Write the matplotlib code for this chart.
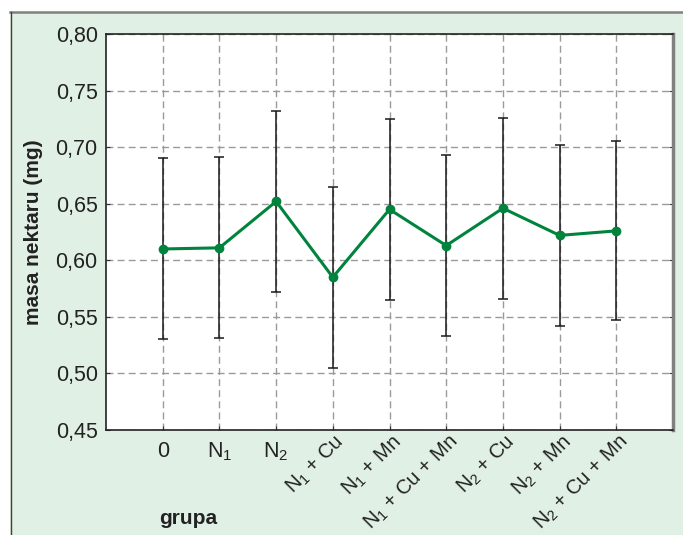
import matplotlib
matplotlib.use("Agg")
import matplotlib.pyplot as plt
from matplotlib.patches import Rectangle
from matplotlib.lines import Line2D

# dane
grupy = ["0", "N$_1$", "N$_2$", "N$_1$ + Cu", "N$_1$ + Mn", "N$_1$ + Cu + Mn",
         "N$_2$ + Cu", "N$_2$ + Mn", "N$_2$ + Cu + Mn"]
srednia = [0.610, 0.611, 0.652, 0.585, 0.645, 0.613, 0.646, 0.622, 0.626]
blad = [0.080, 0.080, 0.080, 0.080, 0.080, 0.080, 0.080, 0.080, 0.079]
y_ticks = [0.45, 0.50, 0.55, 0.60, 0.65, 0.70, 0.75, 0.80]
y_labels = ["0,45", "0,50", "0,55", "0,60", "0,65", "0,70", "0,75", "0,80"]

plt.rcParams['font.family'] = ['Liberation Sans', 'DejaVu Sans']
plt.rcParams['mathtext.default'] = 'regular'

fig = plt.figure(figsize=(6.83, 5.35), dpi=100)

# tlo
fig.patches.append(Rectangle((10 / 683, 0), 1, 523 / 535, transform=fig.transFigure,
                             facecolor='#e1f0e4', edgecolor='none', zorder=-5))
fig.lines.append(Line2D([10 / 683, 1], [523 / 535, 523 / 535], transform=fig.transFigure,
                        color='#808080', lw=1.8, zorder=-4))
fig.lines.append(Line2D([10.5 / 683, 10.5 / 683], [0, 523 / 535], transform=fig.transFigure,
                        color='#404040', lw=1.0, zorder=-4))

ax = fig.add_axes([106 / 683, 105 / 535, 567 / 683, 396 / 535])
ax.set_facecolor('white')
x = list(range(len(grupy)))

ax.errorbar(x, srednia, yerr=blad, fmt='none', ecolor='#1a1a1a', elinewidth=1.1,
            capsize=3.5, capthick=1.1, zorder=3)
ax.plot(x, srednia, color='#00843d', lw=2.2, marker='o', markersize=6, zorder=4)

ax.set_xlim(-1, 9)
ax.set_ylim(0.45, 0.80)
ax.set_yticks(y_ticks)
ax.set_yticklabels(y_labels, fontsize=15.5, color='#222222')
ax.set_xticks(x)
ax.set_xticklabels([])
ax.grid(True, color='#9a9a9a', linestyle=(0, (5, 3)), lw=1.0)
ax.tick_params(axis='y', direction='in', length=3, right=True, color='#333333', pad=6)
ax.tick_params(axis='x', direction='in', length=3, color='#333333')

for s in ['left', 'bottom', 'top']:
    ax.spines[s].set_color('#222222')
    ax.spines[s].set_linewidth(1.2)
ax.spines['right'].set_color('#808080')
ax.spines['right'].set_linewidth(2.5)

# etykiety osi x
for i, g in enumerate(grupy):
    if i < 3:
        ax.text(i, -0.027, g, transform=ax.get_xaxis_transform(), ha='center', va='top',
                fontsize=15.5, color='#222222')
    else:
        ax.text(i + 0.02, -0.004, g, transform=ax.get_xaxis_transform(), ha='right', va='top',
                rotation=45, rotation_mode='anchor', fontsize=14.6, color='#222222')

ax.set_ylabel('masa nektaru (mg)', fontsize=15, fontweight='bold', color='#222222', labelpad=9)
fig.text(188 / 683, 1 - 518 / 535, 'grupa', fontsize=15, fontweight='bold', color='#222222',
         ha='center', va='center')

fig.savefig('out.png', dpi=100)
